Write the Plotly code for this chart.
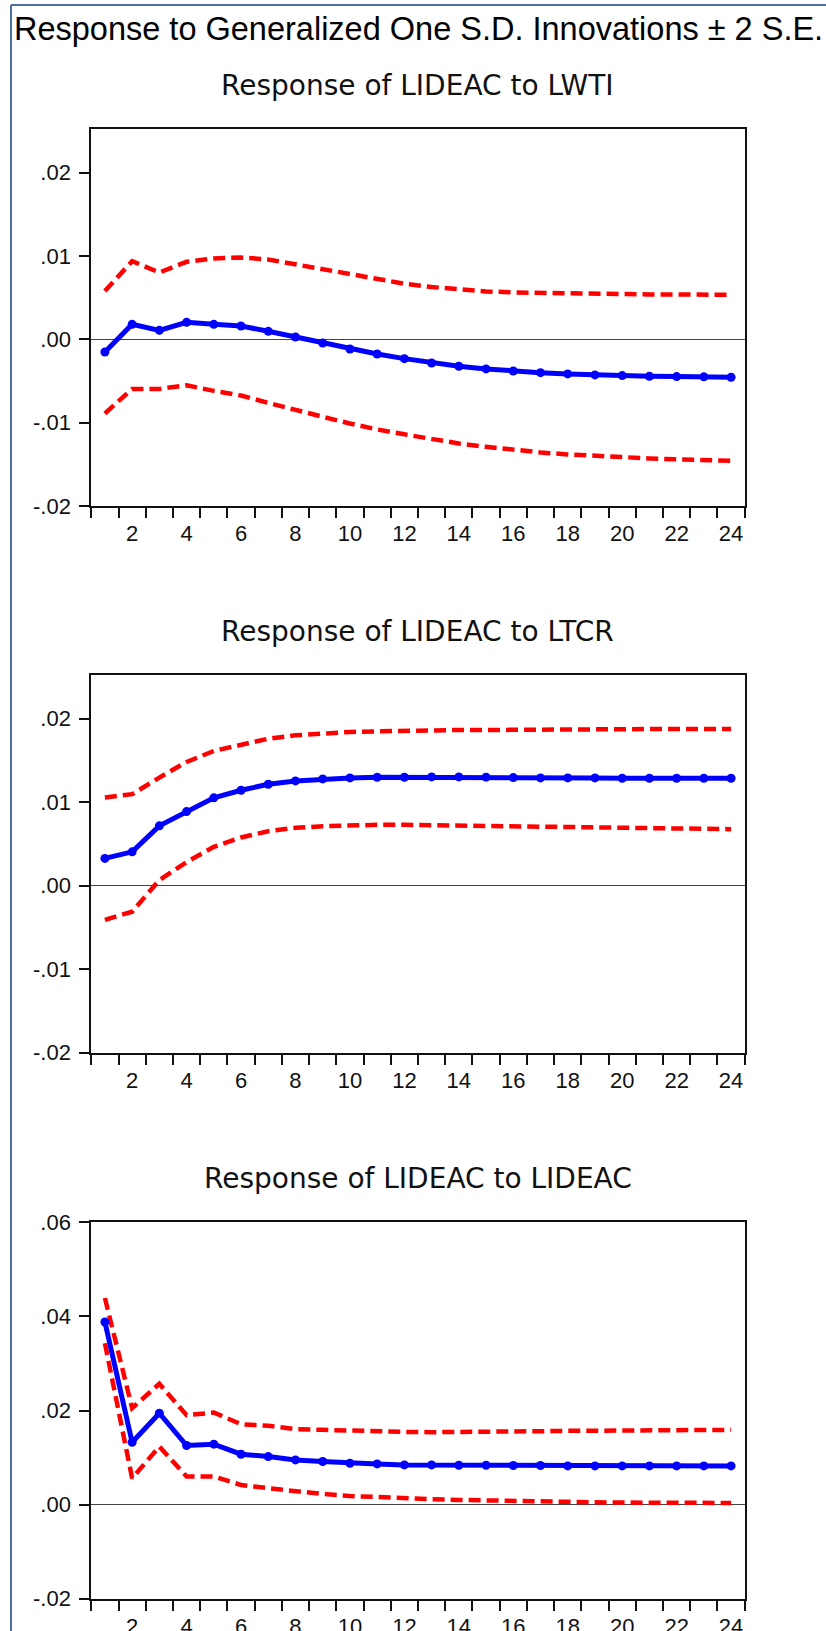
import plotly.graph_objects as go

periods = list(range(1, 25))

# Response of LIDEAC to LWTI
lwti_resp = [-0.00152, 0.0018, 0.00108, 0.00204, 0.0018, 0.0016, 0.00096, 0.00028,
             -0.00044, -0.00116, -0.00176, -0.00232, -0.00284, -0.00323, -0.00355, -0.0038,
             -0.0040, -0.00415, -0.00427, -0.00435, -0.00443, -0.00447, -0.0045, -0.00455]
lwti_upper = [0.00579, 0.00938, 0.00802, 0.0093, 0.0097, 0.00982, 0.00958, 0.00898,
              0.00838, 0.00774, 0.00714, 0.00667, 0.00627, 0.00595, 0.00575, 0.00563,
              0.00555, 0.00547, 0.00543, 0.00543, 0.00539, 0.00539, 0.00535, 0.00535]
lwti_lower = [-0.0089, -0.00595, -0.00595, -0.00551, -0.00619, -0.00675, -0.00762, -0.0085,
              -0.0093, -0.0101, -0.01082, -0.0114, -0.0120, -0.0125, -0.0129, -0.0133,
              -0.01357, -0.01381, -0.0140, -0.01417, -0.01429, -0.0144, -0.01449, -0.01457]

# Response of LIDEAC to LTCR
ltcr_resp = [0.00327, 0.00406, 0.00717, 0.00888, 0.01052, 0.01143, 0.01215, 0.01255,
             0.01279, 0.01291, 0.01299, 0.01299, 0.01303, 0.01303, 0.0130, 0.01295,
             0.01291, 0.01291, 0.01291, 0.01287, 0.01287, 0.01287, 0.01287, 0.01287]
ltcr_upper = [0.01056, 0.01096, 0.01295, 0.01482, 0.01614, 0.01693, 0.01761, 0.01801,
              0.01825, 0.01841, 0.01849, 0.01857, 0.0186, 0.01865, 0.01865, 0.01869,
              0.01869, 0.01873, 0.01873, 0.01876, 0.01876, 0.01876, 0.01876, 0.01876]
ltcr_lower = [-0.0041, -0.00311, 0.00068, 0.00283, 0.00466, 0.00578, 0.00653, 0.00693,
              0.00713, 0.00725, 0.00729, 0.00729, 0.00725, 0.00717, 0.00709, 0.00701,
              0.00697, 0.00693, 0.00689, 0.00685, 0.00681, 0.00681, 0.00677, 0.00677]

# Response of LIDEAC to LIDEAC
lideac_resp = [0.0388, 0.01326, 0.01943, 0.01255, 0.01284, 0.01071, 0.01021, 0.0095,
               0.00915, 0.0088, 0.00865, 0.00844, 0.00844, 0.00837, 0.00837, 0.0083,
               0.0083, 0.00823, 0.00823, 0.00823, 0.00823, 0.00823, 0.00823, 0.00823]
lideac_upper = [0.0439, 0.0205, 0.02567, 0.019, 0.01957, 0.01709, 0.01674, 0.01603,
                0.01589, 0.01567, 0.01553, 0.01546, 0.01539, 0.01539, 0.01546, 0.01553,
                0.0156, 0.01567, 0.01574, 0.01574, 0.01582, 0.01582, 0.01589, 0.01589]
lideac_lower = [0.0343, 0.0056, 0.01234, 0.00596, 0.00596, 0.00418, 0.00348, 0.00277,
                0.00227, 0.00184, 0.00156, 0.00128, 0.00113, 0.00099, 0.00085, 0.00071,
                0.00064, 0.00057, 0.0005, 0.00043, 0.00043, 0.00035, 0.00035, 0.00035]

main_title = "Response to Generalized One S.D. Innovations ± 2 S.E."
panel_titles = ["Response of LIDEAC to LWTI", "Response of LIDEAC to LTCR",
                "Response of LIDEAC to LIDEAC"]

x_tickvals = list(range(2, 25, 2))
x_ticktext = [str(v) for v in x_tickvals]
x_bounds = [p - 0.5 for p in periods] + [periods[-1] + 0.5]

y_ticks_small = [-0.02, -0.01, 0.0, 0.01, 0.02]
y_text_small = ["-.02", "-.01", ".00", ".01", ".02"]
y_ticks_big = [-0.02, 0.0, 0.02, 0.04, 0.06]
y_text_big = ["-.02", ".00", ".02", ".04", ".06"]

panels = [
    (lwti_resp, lwti_upper, lwti_lower, y_ticks_small, y_text_small, [-0.02, 0.0252]),
    (ltcr_resp, ltcr_upper, ltcr_lower, y_ticks_small, y_text_small, [-0.02, 0.0252]),
    (lideac_resp, lideac_upper, lideac_lower, y_ticks_big, y_text_big, [-0.02, 0.06]),
]

W, H = 826, 1631
plot_left, plot_right = 91.3, 744.7
plot_tops = [129.3, 675.3, 1222.3]
plot_bottoms = [506.0, 1052.7, 1598.7]

RED = "#ff0000"
BLUE = "#0000ff"
TICKFONT = dict(family="Liberation Sans, Arial", size=22, color="#111111")

fig = go.Figure()
layout = dict(
    template="none",
    width=W, height=H,
    margin=dict(l=0, r=0, t=0, b=0, pad=0, autoexpand=False),
    paper_bgcolor="white", plot_bgcolor="white",
    showlegend=False,
)

annotations = []
for i, (resp, up, lo, ytv, ytt, yr) in enumerate(panels):
    n = "" if i == 0 else str(i + 1)
    xa, ya = "x" + n, "y" + n
    for band in (up, lo):
        fig.add_trace(go.Scatter(x=periods, y=band, mode="lines", xaxis=xa, yaxis=ya,
                                 line=dict(color=RED, width=4.5, dash="12px,6px")))
    fig.add_trace(go.Scatter(x=periods, y=resp, mode="lines+markers", xaxis=xa, yaxis=ya,
                             line=dict(color=BLUE, width=5),
                             marker=dict(color=BLUE, size=9)))
    layout["xaxis" + n] = dict(
        domain=[plot_left / W, plot_right / W], anchor=ya, automargin=False,
        range=[0.5, 24.5], tickmode="array", tickvals=x_tickvals, ticktext=x_ticktext,
        ticks="outside", ticklen=10, tickcolor="rgba(0,0,0,0)", ticklabelstandoff=-3,
        minor=dict(tickmode="array", tickvals=x_bounds, ticks="outside", ticklen=10,
                   tickwidth=1.5, tickcolor="#111111", showgrid=False),
        showgrid=False, zeroline=False, showline=True, mirror=True,
        linecolor="#111111", linewidth=2, tickfont=TICKFONT,
    )
    layout["yaxis" + n] = dict(
        domain=[1 - plot_bottoms[i] / H, 1 - plot_tops[i] / H], anchor=xa, automargin=False,
        range=yr, tickmode="array", tickvals=ytv, ticktext=ytt,
        ticks="outside", ticklen=10, tickwidth=1.5, tickcolor="#111111",
        ticklabelstandoff=4,
        showgrid=False, zeroline=True, zerolinecolor="#444444", zerolinewidth=1,
        showline=True, mirror=True, linecolor="#111111", linewidth=2, tickfont=TICKFONT,
    )
    annotations.append(dict(
        text=panel_titles[i], xref="paper", yref="paper",
        x=(plot_left + plot_right) / 2 / W, y=1 - (plot_tops[i] - 44) / H,
        xanchor="center", yanchor="middle", showarrow=False,
        font=dict(family="DejaVu Sans", size=28, color="#111111"),
    ))

annotations.append(dict(
    text=main_title, xref="paper", yref="paper", x=12 / W, y=1 - 28.5 / H,
    xanchor="left", yanchor="middle", showarrow=False,
    font=dict(family="Liberation Sans, Arial", size=32.5, color="#000000"),
))
layout["annotations"] = annotations

FRAME = "#4a6fa5"
layout["shapes"] = [
    dict(type="line", xref="paper", yref="paper", x0=11 / W, x1=11 / W, y0=0, y1=1 - 5 / H,
         line=dict(color=FRAME, width=2)),
    dict(type="line", xref="paper", yref="paper", x0=11 / W, x1=1, y0=1 - 5 / H, y1=1 - 5 / H,
         line=dict(color=FRAME, width=2)),
]

fig.update_layout(**layout)
fig.write_html("out.html")
